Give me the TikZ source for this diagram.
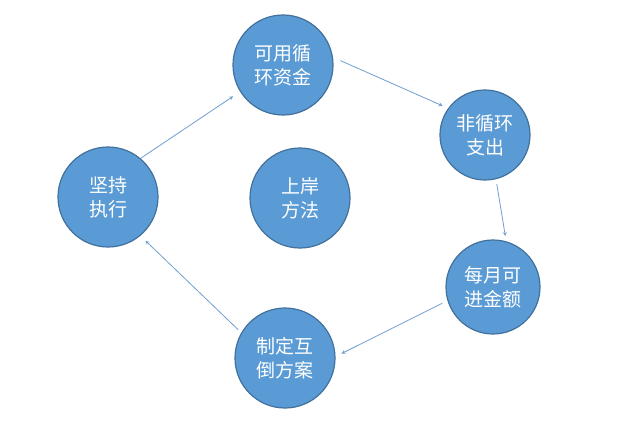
\documentclass[tikz,border=0pt]{standalone}
\usepackage{fontspec}
\newfontfamily\cjk{Noto Sans CJK SC}
\definecolor{cfill}{HTML}{5B9BD5}
\definecolor{cdraw}{HTML}{41719C}
\definecolor{carr}{HTML}{6F9FCF}
\begin{document}
\begin{tikzpicture}[x=1pt,y=-1pt,
  circ/.style={circle,fill=cfill,draw=cdraw,line width=1.2pt,text=white,font=\cjk\fontsize{19}{24}\selectfont,align=center,inner sep=0pt},
  arr/.style={draw=carr,line width=0.8pt,-stealth}]
\useasboundingbox[fill=white] (0,0) rectangle (628,420);
\node[circ,minimum size=100] (a) at (283,65) {可用循\\环资金};
\node[circ,minimum size=90] (b) at (485,135) {非循环\\支出};
\node[circ,minimum size=94] (c) at (493,287) {每月可\\进金额};
\node[circ,minimum size=100] (d) at (285,358) {制定互\\倒方案};
\node[circ,minimum size=100] (e) at (108,197) {坚持\\执行};
\node[circ,minimum size=100] (f) at (300,198) {上岸\\方法};
\draw[arr] ([shift={(-3,-3)}]e.45) -- ([shift={(-6,6)}]a.210);
\draw[arr] ([shift={(7,0)}]a.5) -- ([shift={(-5,-3)}]b.145);
\draw[arr] ([shift={(0,5)}]b.-75) -- ([shift={(0,-5)}]c.75);
\draw[arr] ([shift={(-6,0)}]c.200) -- ([shift={(6,0)}]d.5);
\draw[arr] ([shift={(-3,-3)}]d.150) -- ([shift={(5,5)}]e.-50);
\end{tikzpicture}
\end{document}
